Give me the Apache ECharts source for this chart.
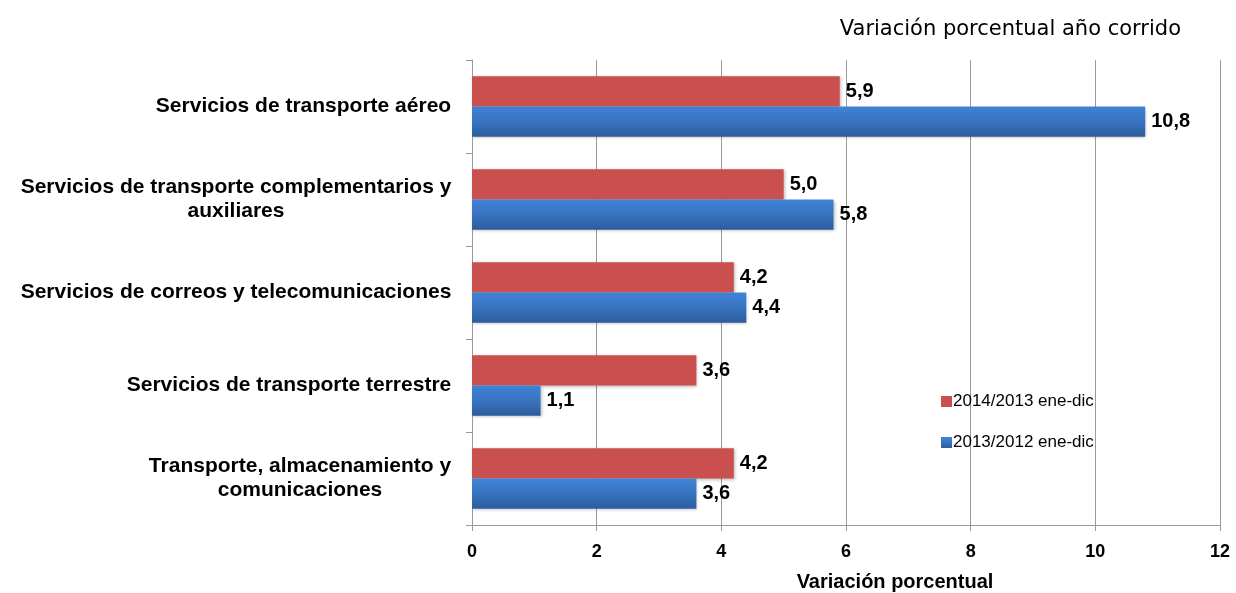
<!DOCTYPE html>
<html>
<head>
<meta charset="utf-8">
<script src="https://cdn.jsdelivr.net/npm/echarts@6/dist/echarts.min.js"></script>
<style>
  html, body { margin: 0; padding: 0; background: #fff; }
  #chart { width: 1236px; height: 593px; }
</style>
</head>
<body>
<div id="chart"></div>
<script>
// categorias, de abajo hacia arriba
var categorias = [
  'Transporte, almacenamiento y\ncomunicaciones',
  'Servicios de transporte terrestre',
  'Servicios de correos y telecomunicaciones',
  'Servicios de transporte complementarios y\nauxiliares',
  'Servicios de transporte aéreo'
];
var serie2013 = [3.6, 1.1, 4.4, 5.8, 10.8];
var serie2014 = [4.2, 3.6, 4.2, 5.0, 5.9];
var nombre2013 = '2013/2012 ene-dic';
var nombre2014 = '2014/2013 ene-dic';
var ticksX = [0, 2, 4, 6, 8, 10, 12];

var fuenteCat = 'bold 21px "Liberation Sans", Arial';

// ancho de cada etiqueta para centrar sus lineas entre si
var ctx = document.createElement('canvas').getContext('2d');
ctx.font = fuenteCat;
var richCat = {};
categorias.forEach(function (c, i) {
  var w = 0;
  c.split('\n').forEach(function (l) { w = Math.max(w, ctx.measureText(l).width); });
  richCat['c' + i] = {
    width: Math.ceil(w) + 1, align: 'center',
    fontFamily: 'Liberation Sans, Arial', fontWeight: 'bold', fontSize: 21, color: '#000', lineHeight: 24
  };
});

var chart = echarts.init(document.getElementById('chart'));

var etiqueta = {
  show: true,
  position: 'right',
  distance: 6,
  color: '#000',
  fontFamily: 'Liberation Sans, Arial',
  fontWeight: 'bold',
  fontSize: 20,
  formatter: function (p) { return p.value.toFixed(1).replace('.', ','); }
};

chart.setOption({
  animation: false,
  title: {
    text: 'Variación porcentual año corrido',
    right: 50,
    top: 14,
    textStyle: { fontFamily: 'DejaVu Sans', fontWeight: 'normal', fontSize: 21, color: '#000' }
  },
  legend: {
    orient: 'vertical',
    left: 936,
    top: 388,
    itemGap: 24,
    itemWidth: 11,
    itemHeight: 11,
    icon: 'rect',
    data: [nombre2014, nombre2013],
    textStyle: { fontFamily: 'Liberation Sans, Arial', fontSize: 17, color: '#000', padding: [0, 0, 0, -4] }
  },
  grid: { left: 472, right: 16, top: 60, bottom: 68, containLabel: false, outerBoundsMode: 'none' },
  xAxis: {
    type: 'value',
    min: ticksX[0],
    max: ticksX[ticksX.length - 1],
    interval: 2,
    name: 'Variación porcentual',
    nameLocation: 'middle',
    nameGap: 47,
    nameTextStyle: {
      fontFamily: 'Liberation Sans, Arial', fontWeight: 'bold', fontSize: 20, color: '#000',
      padding: [0, 0, 0, 98]
    },
    axisLine: { show: true, lineStyle: { color: '#9a9a9a', width: 1 } },
    axisTick: { show: true, length: 6, lineStyle: { color: '#9a9a9a' } },
    axisLabel: { fontFamily: 'Liberation Sans, Arial', fontWeight: 'bold', fontSize: 18, color: '#000', margin: 18 },
    splitLine: { show: true, lineStyle: { color: '#9a9a9a', width: 1 } }
  },
  yAxis: {
    type: 'category',
    data: categorias,
    axisLine: { show: true, lineStyle: { color: '#9a9a9a', width: 1 } },
    axisTick: { show: true, length: 6, lineStyle: { color: '#9a9a9a' } },
    axisLabel: {
      margin: 20,
      formatter: function (v, i) {
        return v.split('\n').map(function (l) { return '{c' + i + '|' + l + '}'; }).join('\n');
      },
      rich: richCat
    }
  },
  series: [
    {
      name: nombre2014,
      type: 'bar',
      data: serie2014,
      barGap: '0%',
      barCategoryGap: '35%',
      itemStyle: {
        color: '#c9504f',
        shadowColor: 'rgba(0,0,0,0.25)', shadowBlur: 3, shadowOffsetX: 1, shadowOffsetY: 1
      },
      label: etiqueta
    },
    {
      name: nombre2013,
      type: 'bar',
      data: serie2013,
      barGap: '0%',
      barCategoryGap: '35%',
      itemStyle: {
        color: new echarts.graphic.LinearGradient(0, 0, 0, 1, [
          { offset: 0, color: '#3f83d6' },
          { offset: 0.5, color: '#3873c0' },
          { offset: 1, color: '#2c5c9c' }
        ]),
        shadowColor: 'rgba(0,0,0,0.25)', shadowBlur: 3, shadowOffsetX: 1, shadowOffsetY: 1
      },
      label: etiqueta
    }
  ]
});
</script>
</body>
</html>
